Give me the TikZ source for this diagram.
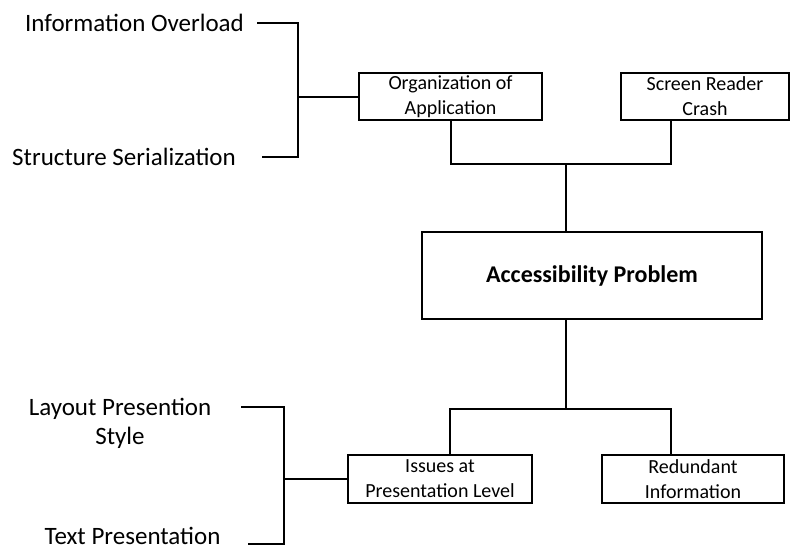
\documentclass[tikz,border=0pt]{standalone}
\usepackage{fontspec}
\setmainfont{Carlito}
\usetikzlibrary{positioning}

\tikzset{
  probbox/.style={draw, line width=2pt, align=center, inner sep=0pt,
    font=\fontsize{20}{25}\selectfont},
  causebox/.style={probbox, execute at begin node={\rule{0pt}{21pt}}},
  sidelabel/.style={align=center, inner sep=0pt,
    font=\fontsize{25}{29}\selectfont},
  wire/.style={line width=2pt}
}

\begin{document}
\begin{tikzpicture}[x=1pt,y=-1pt]
  \useasboundingbox (0,0) rectangle (791,551);
  % central problem and its causes
  \node[probbox, minimum width=340, minimum height=87,
    font=\fontsize{24}{28}\selectfont\bfseries] (acc) at (592,275.5) {Accessibility Problem};
  \node[causebox, minimum width=183, minimum height=47] (org) at (450.5,96.5) {Organization of\\Application};
  \node[causebox, minimum width=168, minimum height=47] (scr) at (705,96.5) {Screen Reader\\Crash};
  \node[causebox, minimum width=184, minimum height=48] (iss) at (440,479) {Issues at\\Presentation Level};
  \node[causebox, minimum width=182, minimum height=48] (red) at (693,479) {Redundant\\Information};
  % side labels
  \node[sidelabel] (info) at (134.5,23) {Information Overload};
  \node[sidelabel] (struc) at (124,157) {Structure Serialization};
  \node[sidelabel] (lay) at (120,423) {Layout Presention\\Style};
  \node[sidelabel] (txt) at (132.5,536) {Text Presentation};
  \coordinate (tspine) at (298,96.5);
  \coordinate (bspine) at (284,479);
  % tree connectors
  \draw[wire] ([xshift=145]acc.north west) -- ++(0,-67) coordinate (topjoin);
  \draw[wire] (org.south) |- (topjoin) -| ([xshift=51]scr.south west);
  \draw[wire] ([xshift=145]acc.south west) -- ++(0,89) coordinate (botjoin);
  \draw[wire] ([xshift=103]iss.north west) |- (botjoin) -| ([xshift=70]red.north west);
  % brackets
  \draw[wire] ([xshift=13]info.east) -| (tspine) |- ([xshift=26]struc.east);
  \draw[wire] (tspine) -- (org.west);
  \draw[wire] ([xshift=30,yshift=16]lay.east) -| (bspine) |- ([xshift=27,yshift=-8]txt.east);
  \draw[wire] (bspine) -- (iss.west);
\end{tikzpicture}
\end{document}
